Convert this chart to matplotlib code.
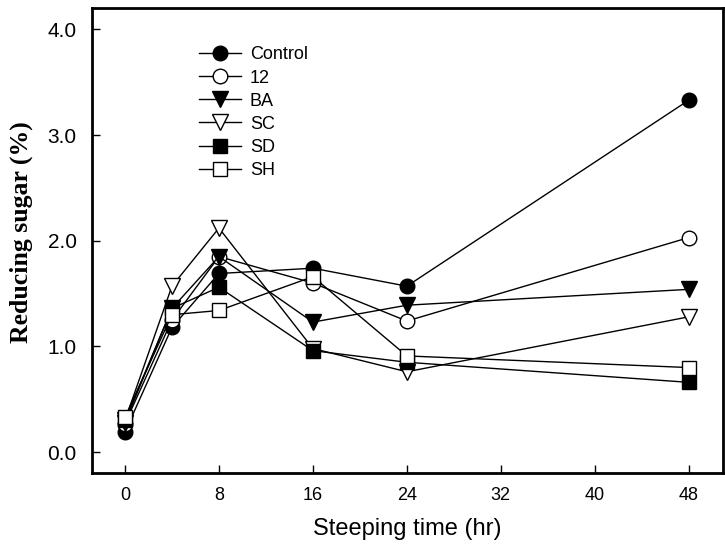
import numpy as np
import matplotlib.pyplot as plt

hours = [0, 4, 8, 16, 24, 48]

control = [0.19, 1.18, 1.69, 1.74, 1.57, 3.33]
t12 = [0.27, 1.25, 1.85, 1.60, 1.24, 2.03]
ba = [0.28, 1.36, 1.85, 1.23, 1.39, 1.54]
sc = [0.30, 1.57, 2.12, 0.98, 0.76, 1.28]
sd = [0.30, 1.36, 1.56, 0.96, 0.85, 0.66]
sh = [0.33, 1.30, 1.34, 1.66, 0.91, 0.80]

labels = ["Control", "12", "BA", "SC", "SD", "SH"]
xticks = [0, 8, 16, 24, 32, 40, 48]
yticks = [0.0, 1.0, 2.0, 3.0, 4.0]

series = [control, t12, ba, sc, sd, sh]
markers = ["o", "o", "v", "v", "s", "s"]
faces = ["black", "white", "black", "white", "black", "white"]
msizes = {"o": 10.5, "v": 11, "s": 9.5}

fig = plt.figure(figsize=(7.25, 5.49), dpi=100)
ax = fig.add_axes([0.127, 0.138, 0.870, 0.847])

for vals, lab, mk, fc in zip(series, labels, markers, faces):
    ax.plot(hours, vals, color="black", linewidth=1, marker=mk, markersize=msizes[mk],
            markerfacecolor=fc, markeredgecolor="black", markeredgewidth=1, label=lab)

ax.set_xlim(-2.8, 50.9)
ax.set_ylim(-0.2, 4.2)
ax.set_xticks(xticks)
ax.set_xticklabels([str(t) for t in xticks], fontsize=13, family="Liberation Sans")
ax.set_yticks(yticks)
ax.set_yticklabels(["{0:.1f}".format(t) for t in yticks], fontsize=15, family="Liberation Sans")
ax.tick_params(direction="in", length=6, width=1)
ax.tick_params(axis="x", pad=10)
ax.tick_params(axis="y", pad=11)
for side in ["left", "bottom", "top", "right"]:
    ax.spines[side].set_linewidth(2)

ax.set_xlabel("Steeping time (hr)", fontsize=17, family="Liberation Sans", labelpad=10)
ax.set_ylabel("Reducing sugar (%)", fontsize=18.5, family="Liberation Serif", fontweight="bold")
ax.yaxis.set_label_coords(-0.093, 0.518)

ax.legend(loc="upper left", bbox_to_anchor=(0.17, 0.918), frameon=False,
          handlelength=2.3, labelspacing=0.34, borderpad=0, borderaxespad=0, handletextpad=0.5,
          prop={"family": "Liberation Sans", "size": 13})

fig.savefig("out.png", dpi=100)
